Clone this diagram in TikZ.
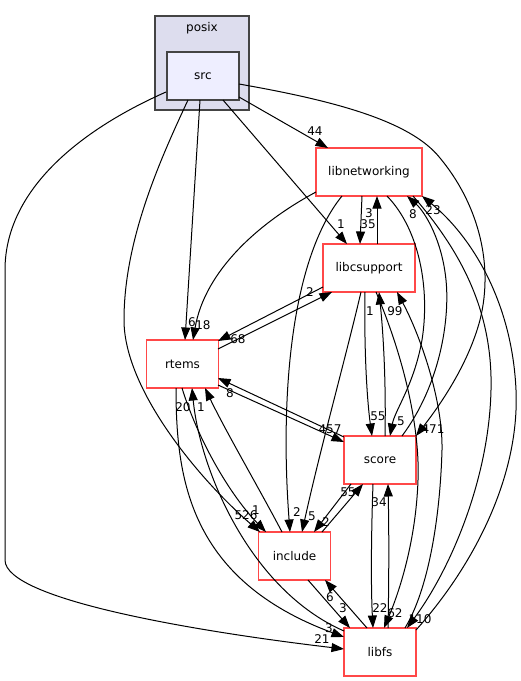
\documentclass[tikz,border=0pt]{standalone}
\usepackage{fontspec}
\setmainfont{DejaVu Sans}
\usetikzlibrary{arrows.meta,calc}
\definecolor{dxred}{RGB}{255,72,72}
\definecolor{dxgrey}{RGB}{68,68,68}
\definecolor{clfill}{RGB}{221,221,238}
\definecolor{srcfill}{RGB}{238,238,255}
\begin{document}
\begin{tikzpicture}[x=1pt,y=-1pt,
  every node/.style={font=\fontsize{12}{14}\selectfont},
  dirbox/.style={draw=dxred, line width=1.4pt, fill=white, minimum width=72pt, minimum height=48pt, inner sep=0pt},
  srcbox/.style={draw=dxgrey, line width=1.4pt, fill=srcfill, minimum width=72pt, minimum height=48pt, inner sep=0pt},
  clusterbox/.style={draw=dxgrey, line width=1.4pt, fill=clfill, minimum width=94pt, minimum height=94pt, inner sep=0pt},
  dep/.style={draw=black, line width=1pt, -{Triangle[length=12.5pt,width=9pt]}},
  lbl/.style={inner sep=0pt}
]
\path[fill=white,use as bounding box] (0,0) rectangle (521,681);

% cluster and nodes
\node[clusterbox] (posix) at (202,63) {};
\node (posixtitle) at (202,28) {posix};
\node[srcbox] (src) at (203,76) {src};
\node[dirbox, minimum width=106pt] (libnetworking) at (369,172) {libnetworking};
\node[dirbox, minimum width=92pt] (libcsupport) at (369,268) {libcsupport};
\node[dirbox] (rtems) at (182.5,364) {rtems};
\node[dirbox] (score) at (380,460) {score};
\node[dirbox] (include) at (294.5,556) {include};
\node[dirbox] (libfs) at (380,652) {libfs};

% edges from src
\draw[dep] ($(src)+(36,21)$) -- ($(libnetworking)+(-41,-24)$);
\draw[dep] ($(src)+(20,24)$) -- ($(libcsupport)+(-22,-24)$);
\draw[dep] ($(src)+(-3,24)$) -- ($(rtems)+(2.5,-24)$);
\draw[dep] ($(src)+(-15,24)$) .. controls (160,160) and (124,240) .. (124,320)
  .. controls (124,390) and (200,480) .. ($(include)+(-34.5,-24)$);
\draw[dep] ($(src)+(-37,16)$) .. controls (80,130) and (5,190) .. (5,270) -- (5,560)
  .. controls (5,600) and (200,632) .. ($(libfs)+(-36,-3)$);
\draw[dep] ($(src)+(36,8)$) .. controls (330,100) and (410,120) .. (440,158)
  .. controls (475,200) and (495,260) .. (480,320)
  .. controls (468,365) and (440,405) .. ($(score)+(36,-24)$);

% libnetworking
\draw[dep] ($(libnetworking)+(-7,24)$) -- ($(libcsupport)+(-9,-24)$);
\draw[dep] ($(libcsupport)+(8,-24)$) -- ($(libnetworking)+(8,24)$);
\draw[dep] ($(libnetworking)+(-53,20)$) .. controls (260,222) and (205,270) .. ($(rtems)+(10.5,-24)$);
\draw[dep] ($(libnetworking)+(-27,24)$) .. controls (290,260) and (280,400) .. ($(include)+(-4.5,-24)$);
\draw[dep] ($(libnetworking)+(18,24)$) .. controls (420,230) and (430,290) .. (422,340)
  .. controls (414,385) and (395,410) .. ($(score)+(10,-24)$);
\draw[dep] ($(score)+(22,-24)$) .. controls (440,385) and (450,320) .. (446,280)
  .. controls (442,240) and (425,212) .. ($(libnetworking)+(38,24)$);
\draw[dep] ($(libnetworking)+(44,24)$) .. controls (460,250) and (493,310) .. (491,390)
  .. controls (489,480) and (450,570) .. ($(libfs)+(27,-24)$);
\draw[dep] ($(libfs)+(36,-22)$) .. controls (470,570) and (520,480) .. (516,390)
  .. controls (512,300) and (470,235) .. ($(libnetworking)+(53,24)$);

% libcsupport
\draw[dep] ($(libcsupport)+(-46,19)$) -- ($(rtems)+(35.5,-23)$);
\draw[dep] ($(rtems)+(35.5,-15)$) -- ($(libcsupport)+(-37,24)$);
\draw[dep] ($(libcsupport)+(-4,24)$) .. controls (364,350) and (367,400) .. ($(score)+(-8,-24)$);
\draw[dep] ($(score)+(5,-24)$) .. controls (386,390) and (384,340) .. ($(libcsupport)+(10,24)$);
\draw[dep] ($(libfs)+(25,-24)$) .. controls (428,590) and (440,520) .. (442,450)
  .. controls (443,400) and (420,335) .. ($(libcsupport)+(28,24)$);
\draw[dep] ($(libcsupport)+(7,24)$) .. controls (405,360) and (420,430) .. (418,480)
  .. controls (416,540) and (400,590) .. ($(libfs)+(4,-24)$);
\draw[dep] ($(libcsupport)+(-8,24)$) .. controls (345,360) and (320,450) .. ($(include)+(7.5,-24)$);

% rtems / score
\draw[dep] ($(rtems)+(35.5,21)$) -- ($(score)+(-36,-18)$);
\draw[dep] ($(score)+(-36,-23)$) -- ($(rtems)+(35.5,14)$);

% include / score / libfs
\draw[dep] ($(include)+(27.5,-24)$) -- ($(score)+(-17,24)$);
\draw[dep] ($(score)+(-29,24)$) -- ($(include)+(19.5,-24)$);
\draw[dep] ($(score)+(-7,24)$) .. controls (371,540) and (371,590) .. ($(libfs)+(-7,-24)$);
\draw[dep] ($(libfs)+(8,-24)$) .. controls (389,580) and (389,530) .. ($(score)+(8,24)$);
\draw[dep] ($(include)+(13.5,24)$) -- ($(libfs)+(-30,-24)$);
\draw[dep] ($(libfs)+(-13,-24)$) -- ($(include)+(30.5,24)$);

% rtems / include / libfs
\draw[dep] ($(rtems)+(-6.5,24)$) .. controls (176,480) and (190,580) .. ($(libfs)+(-36,-15)$);
\draw[dep] ($(libfs)+(-36,-21)$) .. controls (250,590) and (200,470) .. ($(rtems)+(9.5,24)$);
\draw[dep] ($(include)+(-12.5,-24)$) .. controls (260,490) and (225,430) .. ($(rtems)+(22.5,24)$);
\draw[dep] ($(rtems)+(-0.5,24)$) .. controls (198,440) and (230,495) .. ($(include)+(-28.5,-24)$);

% edge labels
\node[lbl] (l1) at (315,131) {44};
\node[lbl] (l2) at (341,224) {1};
\node[lbl] (l3) at (192,322) {6};
\node[lbl] (l4) at (246,515) {526};
\node[lbl] (l33) at (256,510) {1};
\node[lbl] (l5) at (322,639) {21};
\node[lbl] (l6) at (433,429) {471};
\node[lbl] (l7) at (368,224) {35};
\node[lbl] (l8) at (369,213) {3};
\node[lbl] (l9) at (203,325) {18};
\node[lbl] (l10) at (297,512) {2};
\node[lbl] (l11) at (401,421) {5};
\node[lbl] (l12) at (413,214) {8};
\node[lbl] (l13) at (420,619) {110};
\node[lbl] (l14) at (433,210) {23};
\node[lbl] (l15) at (238,339) {68};
\node[lbl] (l16) at (310,292) {2};
\node[lbl] (l17) at (378,416) {55};
\node[lbl] (l18) at (370,311) {1};
\node[lbl] (l19) at (395,311) {99};
\node[lbl] (l20) at (395,613) {62};
\node[lbl] (l21) at (312,516) {5};
\node[lbl] (l22) at (330,429) {457};
\node[lbl] (l23) at (230,393) {8};
\node[lbl] (l24) at (348,492) {55};
\node[lbl] (l25) at (326,522) {2};
\node[lbl] (l26) at (380,608) {22};
\node[lbl] (l27) at (379,502) {34};
\node[lbl] (l28) at (343,608) {3};
\node[lbl] (l29) at (330,597) {6};
\node[lbl] (l30) at (329,628) {3};
\node[lbl] (l31) at (183,407) {20};
\node[lbl] (l32) at (201,407) {1};
\end{tikzpicture}
\end{document}
